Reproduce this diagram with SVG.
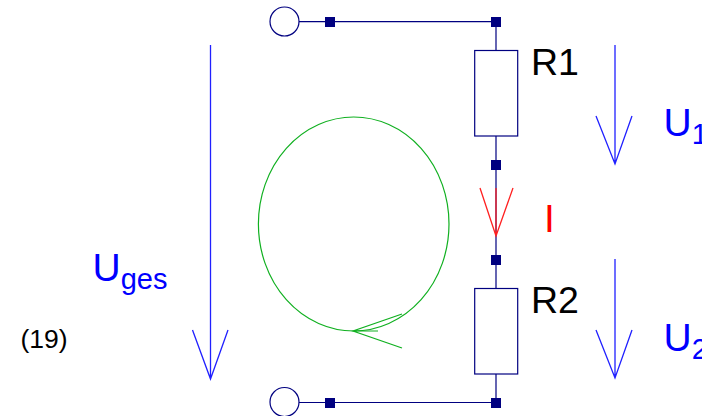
<svg xmlns="http://www.w3.org/2000/svg" width="702" height="416" viewBox="0 0 702 416">
<style>
text{font-family:"Liberation Sans",Arial,sans-serif}
.w{fill:none;stroke:#000080;stroke-width:1.2}
.j{fill:#000080}
.a{fill:none;stroke:#2020ff;stroke-width:1.3}
.b{fill:#0000ff}
.k{fill:#000}
.g{fill:none;stroke:#10b020;stroke-width:1.2}
</style>
<rect width="702" height="416" fill="#fff"/>
<g id="connectors">
<path class="w" d="M299 21.7H496M496 21.7V50.5M496 136V288M496 374V402.500H299"/>
</g>
<g id="terminal-top"><circle class="w" cx="284.500" cy="21.500" r="14.500" fill="#fff"/><rect class="j" x="325" y="17" width="10" height="10"/></g>
<g id="terminal-bottom"><circle class="w" cx="284.500" cy="402" r="14.500" fill="#fff"/><rect class="j" x="325" y="398" width="10" height="10"/></g>
<g id="junctions">
<rect class="j" x="491" y="17" width="10" height="10"/>
<rect class="j" x="491" y="160" width="10" height="10"/>
<rect class="j" x="491" y="255" width="10" height="10"/>
<rect class="j" x="491" y="398" width="10" height="10"/>
</g>
<g id="R1"><rect class="w" x="474.700" y="50.500" width="43" height="85.500" fill="#fff"/><text class="k" x="531" y="75" font-size="37.500">R1</text></g>
<g id="R2"><rect class="w" x="474.700" y="288.500" width="43" height="85.500" fill="#fff"/><text class="k" x="531" y="313" font-size="37.500">R2</text></g>
<g id="current">
<path d="M496 188V236M480 188L496 236L513 188" fill="none" stroke="#ff2020" stroke-width="1.300"/>
<text x="544" y="232" font-size="39" fill="#ff0000">I</text>
</g>
<g id="U-ges"><path class="a" d="M210.500 45V379M192.500 330L210.500 379L228 330"/>
<text class="b" x="92.500" y="280.500" font-size="39">U<tspan font-size="29" dy="8">ges</tspan></text></g>
<g id="U1"><path class="a" d="M615 45V164M596 116L615 164L632 116"/>
<text class="b" x="663.500" y="136" font-size="39">U<tspan font-size="29" dy="8">1</tspan></text></g>
<g id="U2"><path class="a" d="M615 259V378M596 330L615 378L632 330"/>
<text class="b" x="663.500" y="351" font-size="39">U<tspan font-size="29" dy="8">2</tspan></text></g>
<g id="loop">
<ellipse class="g" cx="353.700" cy="224" rx="95.300" ry="107"/>
<path class="g" d="M402 314L353 331L402 348M353 331H378"/>
</g>
<text class="k" x="20.500" y="348" font-size="26.500">(19)</text>
</svg>
